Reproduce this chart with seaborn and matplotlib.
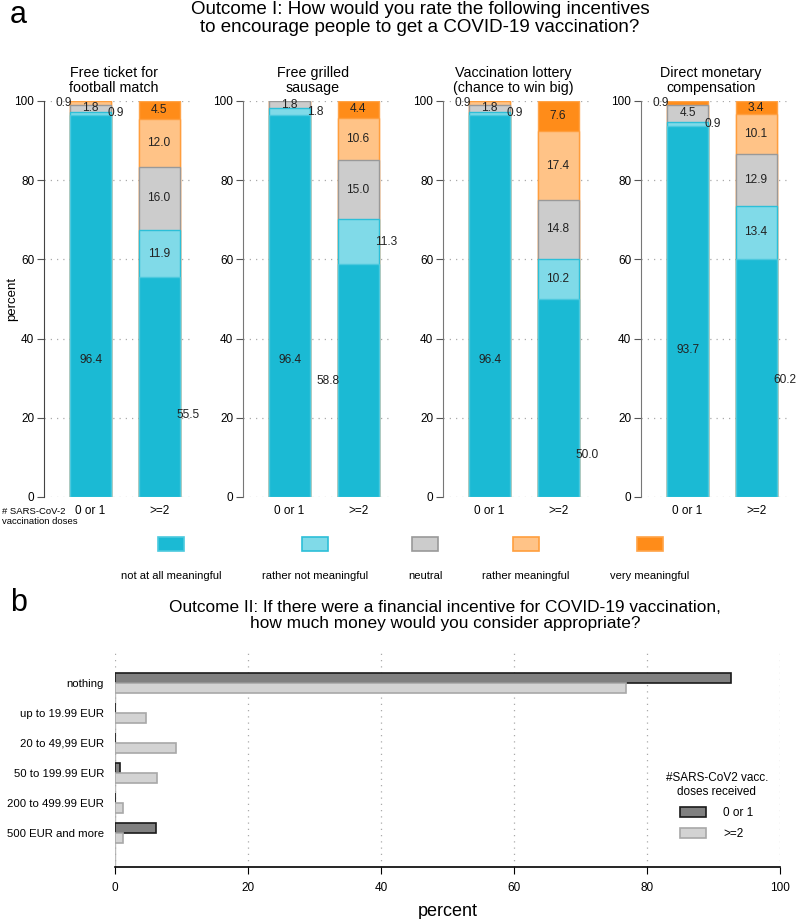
import numpy as np
import pandas as pd
import matplotlib
matplotlib.use("Agg")
import matplotlib.pyplot as plt
import seaborn as sns
from matplotlib.patches import Rectangle, Patch

# ---- data: panel a (percent per answer, stacked) ----
incentives = ["Free ticket for\nfootball match", "Free grilled\nsausage",
              "Vaccination lottery\n(chance to win big)", "Direct monetary\ncompensation"]
dose_groups = ["0 or 1", ">=2"]
answers = ["not at all meaningful", "rather not meaningful", "neutral",
           "rather meaningful", "very meaningful"]

# values per incentive: [0 or 1 group, >=2 group], order follows answers
ticket = [[96.4, 0.9, 1.8, 0.9, 0.0], [55.5, 11.9, 16.0, 12.0, 4.5]]
sausage = [[96.4, 1.8, 1.8, 0.0, 0.0], [58.8, 11.3, 15.0, 10.6, 4.4]]
lottery = [[96.4, 0.9, 1.8, 0.9, 0.0], [50.0, 10.2, 14.8, 17.4, 7.6]]
money = [[93.7, 0.9, 4.5, 0.0, 0.9], [60.2, 13.4, 12.9, 10.1, 3.4]]
panel_values = [ticket, sausage, lottery, money]

# ---- data: panel b ----
amounts = ["nothing", "up to 19.99 EUR", "20 to 49,99 EUR", "50 to 199.99 EUR",
           "200 to 499.99 EUR", "500 EUR and more"]
pct_low = [92.7, 0.0, 0.0, 0.8, 0.0, 6.1]
pct_high = [76.9, 4.6, 9.1, 6.3, 1.2, 1.2]

# colours
face = ["#1bbad4", "#80dae8", "#cccccc", "#ffc387", "#ff8c19"]
edge = ["#4cc9de", "#2cbfd8", "#999999", "#ff9e3d", "#ffa347"]

# label layout (y of bottom-segment label)
bottom_label_y = [[34.6, 20.7], [34.6, 29.3], [34.6, 10.6], [37.1, 29.5]]
panel_left = [44, 243, 443, 641]

W, H = 798, 919
fig = plt.figure(figsize=(W / 100, H / 100), dpi=100)
plt.rcParams['font.family'] = ['Liberation Sans', 'DejaVu Sans']


def px_axes(l, t, w, h):
    return fig.add_axes([l / W, 1 - (t + h) / H, w / W, h / H])


fig.text(10 / W, 1 - 0 / H, "a", fontsize=22, va="top", ha="left")
fig.text(420 / W, 1 - 1 / H,
         "Outcome I: How would you rate the following incentives\n"
         "to encourage people to get a COVID-19 vaccination?",
         ha="center", va="top", fontsize=13.5, linespacing=1.1)

bw = 0.6
for k, (title, vals) in enumerate(zip(incentives, panel_values)):
    ax = px_axes(panel_left[k], 101, 150, 396)
    rows = []
    for g, v in zip(dose_groups, vals):
        cum = np.cumsum(v)
        for s, a in enumerate(answers):
            rows.append({"group": g, "answer": a, "value": v[s], "cum": cum[s],
                         "base": cum[s] - v[s]})
    df = pd.DataFrame(rows)
    # stacked look: draw cumulative totals from top answer down
    for s in range(len(answers) - 1, -1, -1):
        sub = df[df["answer"] == answers[s]]
        sns.barplot(data=sub, x="group", y="cum", order=dose_groups, color=face[s],
                    saturation=1, width=bw, edgecolor=edge[s], linewidth=1.0, ax=ax)

    # value labels
    for b, g in enumerate(dose_groups):
        sub = df[df["group"] == g].reset_index(drop=True)
        for s in range(len(answers)):
            v = sub.loc[s, "value"]
            if v <= 0:
                continue
            y = sub.loc[s, "base"] + v / 2
            side = "c"
            if s == 0:
                y = bottom_label_y[k][b]
                side = "c" if b == 0 else ("l" if k == 1 else "r")
            elif b == 0 and s == 1:
                side = "r"
            elif b == 0 and s >= 3:
                side = "l"
            elif k == 1 and b == 1 and s == 1:
                side = "r"
            if side == "c":
                x, ha = b, "center"
            elif side == "r":
                x, ha = b + bw / 2 - 0.05, "left"
            else:
                x, ha = b - bw / 2 + 0.03, "right"
            ax.text(x, y, f"{v:.1f}", ha=ha, va="center", fontsize=8.6,
                    color="#222222", clip_on=False, zorder=5)

    ax.set_xlim(-0.68, 1.51)
    ax.set_ylim(0, 100)
    ax.set_yticks([0, 20, 40, 60, 80, 100])
    ax.yaxis.grid(True, linestyle=(0, (1, 4)), color="#aaaaaa", linewidth=0.9)
    ax.set_axisbelow(True)
    for sp in ["top", "right", "bottom"]:
        ax.spines[sp].set_visible(False)
    ax.spines["left"].set_color("#444444" if k == 0 else "#777777")
    ax.tick_params(axis="y", length=5, labelsize=8.5, color="#555555", pad=2)
    ax.tick_params(axis="x", length=0, labelsize=8.5, pad=6)
    ax.set_xlabel("")
    ax.set_ylabel("percent" if k == 0 else "", fontsize=9.5)
    if k == 0:
        ax.yaxis.set_label_coords(-0.17, 0.5)
    ax.text(70 / 150, 1 + 6 / 396, title, transform=ax.transAxes, ha="center",
            va="bottom", fontsize=10.3, linespacing=1.1)

fig.text(2 / W, 1 - 507 / H, "# SARS-CoV-2\nvaccination doses", ha="left", va="top",
         fontsize=6.8, linespacing=1.1)

# legend row for panel a
lax = px_axes(0, 528, W, 60)
lax.set_xlim(0, W)
lax.set_ylim(60, 0)
lax.axis("off")
key_x = [171, 315, 425, 526, 650]
for s, a in enumerate(answers):
    lax.add_patch(Rectangle((key_x[s] - 13, 9), 26, 14, facecolor=face[s],
                            edgecolor=edge[s], linewidth=1.2))
    lax.text(key_x[s], 48, a, ha="center", va="center", fontsize=8)

# ---- panel b ----
fig.text(10 / W, 1 - 588 / H, "b", fontsize=22, va="top", ha="left")
fig.text(445 / W, 1 - 600 / H,
         "Outcome II: If there were a financial incentive for COVID-19 vaccination,\n"
         "how much money would you consider appropriate?",
         ha="center", va="top", fontsize=12.4, linespacing=1.12)

dfb = pd.DataFrame({
    "amount": amounts * 2,
    "percent": pct_low + pct_high,
    "doses": ["0 or 1"] * len(amounts) + [">=2"] * len(amounts),
})
bx = px_axes(115, 652, 665, 215)
sns.barplot(data=dfb, y="amount", x="percent", hue="doses", order=amounts,
            hue_order=dose_groups, palette={"0 or 1": "#808080", ">=2": "#d3d3d3"},
            saturation=1, width=0.67, orient="h", ax=bx, legend=False)
b_edges = ["#1a1a1a", "#a8a8a8"]
for cont, ec in zip(bx.containers, b_edges):
    for p in cont:
        p.set_edgecolor(ec)
        p.set_linewidth(1.2)

bx.set_xlim(0, 100)
bx.set_ylim(len(amounts) - 1 + 1.13, -1.03)
bx.set_xticks([0, 20, 40, 60, 80, 100])
bx.xaxis.grid(True, linestyle=(0, (1, 4)), color="#aaaaaa", linewidth=0.9)
bx.set_axisbelow(True)
bx.axvline(0, ymin=0, ymax=0.9, color="#bbbbbb", linewidth=1, zorder=0)
for sp in ["top", "right", "left"]:
    bx.spines[sp].set_visible(False)
bx.spines["bottom"].set_linewidth(1.2)
bx.tick_params(axis="x", length=5, labelsize=8.5, pad=6)
bx.tick_params(axis="y", length=0, labelsize=8.2, pad=8)
bx.set_ylabel("")
bx.set_xlabel("percent", fontsize=13, labelpad=6)

handles = [Patch(facecolor="#808080", edgecolor=b_edges[0], linewidth=1.2, label="0 or 1"),
           Patch(facecolor="#d3d3d3", edgecolor=b_edges[1], linewidth=1.2, label=">=2")]
leg = bx.legend(handles=handles, title="#SARS-CoV2 vacc.\ndoses received",
                loc="upper center", bbox_to_anchor=(0.905, 0.49), frameon=False,
                fontsize=8.5, title_fontsize=8.5, handlelength=2.2, alignment="center",
                handleheight=0.9, handletextpad=1.4, labelspacing=0.75)
leg.get_title().set_multialignment("center")

fig.savefig("out.png", dpi=100)
